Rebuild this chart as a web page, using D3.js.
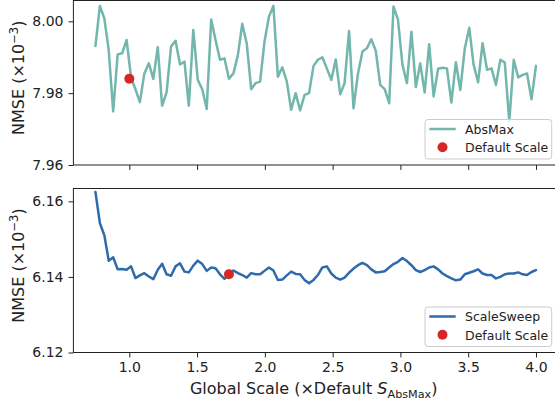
<!DOCTYPE html>
<html>
<head>
<meta charset="utf-8">
<script src="https://cdn.jsdelivr.net/npm/d3@7/dist/d3.min.js"></script>
<style>
  body { margin: 0; background: #fff; }
  svg { display: block; font-family: 'DejaVu Sans', sans-serif; }
</style>
</head>
<body>
<div id="graf"></div>
<script>
// Escala global (x Default S_AbsMax), compartida por los dos paneles
const escalas = [0.750, 0.783, 0.816, 0.848, 0.881, 0.914, 0.947, 0.980, 1.013, 1.045,
  1.078, 1.111, 1.144, 1.177, 1.210, 1.242, 1.275, 1.308, 1.341, 1.374,
  1.407, 1.439, 1.472, 1.505, 1.538, 1.571, 1.604, 1.636, 1.669, 1.702,
  1.735, 1.768, 1.801, 1.833, 1.866, 1.899, 1.932, 1.965, 1.997, 2.030,
  2.063, 2.096, 2.129, 2.162, 2.194, 2.227, 2.260, 2.293, 2.326, 2.359,
  2.391, 2.424, 2.457, 2.490, 2.523, 2.556, 2.588, 2.621, 2.654, 2.687,
  2.720, 2.753, 2.785, 2.818, 2.851, 2.884, 2.917, 2.949, 2.982, 3.015,
  3.048, 3.081, 3.114, 3.146, 3.179, 3.212, 3.245, 3.278, 3.311, 3.343,
  3.376, 3.409, 3.442, 3.475, 3.508, 3.540, 3.573, 3.606, 3.639, 3.672,
  3.705, 3.737, 3.770, 3.803, 3.836, 3.869, 3.902, 3.934, 3.967, 4.000]

// NMSE (x10^-3) panel superior
const absMax = [7.9931, 8.0043, 8.0008, 7.9920, 7.9749, 7.9908, 7.9911, 7.9948, 7.9844, 7.9811,
  7.9775, 7.9855, 7.9883, 7.9840, 7.9928, 7.9765, 7.9802, 7.9930, 7.9946, 7.9880,
  7.9888, 7.9765, 7.9976, 7.9837, 7.9811, 7.9756, 8.0005, 7.9948, 7.9893, 7.9897,
  7.9840, 7.9855, 7.9906, 7.9993, 7.9939, 7.9811, 7.9828, 7.9832, 7.9943, 8.0013,
  8.0043, 7.9846, 7.9872, 7.9832, 7.9754, 7.9800, 7.9752, 7.9795, 7.9800, 7.9876,
  7.9893, 7.9900, 7.9869, 7.9837, 7.9894, 7.9797, 7.9828, 7.9973, 7.9758, 7.9855,
  7.9916, 7.9925, 7.9950, 7.9918, 7.9823, 7.9811, 7.9772, 8.0041, 8.0005, 7.9879,
  7.9828, 7.9971, 7.9817, 7.9883, 7.9802, 7.9936, 7.9791, 7.9868, 7.9871, 7.9869,
  7.9774, 7.9886, 7.9809, 7.9925, 7.9982, 7.9879, 7.9830, 7.9939, 7.9865, 7.9869,
  7.9823, 7.9893, 7.9885, 7.9721, 7.9893, 7.9844, 7.9851, 7.9855, 7.9783, 7.9876]

// NMSE (x10^-3) panel inferior
const scaleSweep = [6.1625, 6.1542, 6.1510, 6.1443, 6.1452, 6.1420, 6.1421, 6.1419, 6.1428, 6.1397,
  6.1404, 6.1410, 6.1401, 6.1394, 6.1419, 6.1435, 6.1407, 6.1403, 6.1428, 6.1436,
  6.1414, 6.1412, 6.1430, 6.1443, 6.1434, 6.1416, 6.1425, 6.1423, 6.1407, 6.1395,
  6.1407, 6.1417, 6.1410, 6.1405, 6.1398, 6.1410, 6.1407, 6.1407, 6.1416, 6.1425,
  6.1417, 6.1392, 6.1393, 6.1404, 6.1414, 6.1408, 6.1407, 6.1392, 6.1383, 6.1392,
  6.1405, 6.1425, 6.1428, 6.1409, 6.1398, 6.1393, 6.1398, 6.1411, 6.1422, 6.1431,
  6.1437, 6.1431, 6.1420, 6.1412, 6.1413, 6.1415, 6.1425, 6.1434, 6.1440, 6.1450,
  6.1442, 6.1431, 6.1418, 6.1413, 6.1418, 6.1425, 6.1428, 6.1420, 6.1409, 6.1402,
  6.1396, 6.1391, 6.1393, 6.1407, 6.1411, 6.1415, 6.1420, 6.1409, 6.1405, 6.1405,
  6.1396, 6.1400, 6.1407, 6.1409, 6.1409, 6.1412, 6.1407, 6.1405, 6.1413, 6.1418]

// Punto de la escala por defecto [x, y]
const defaultAbsMax = [1.0, 7.984]
const defaultSweep = [1.735, 6.1407]

// Ticks
const xTicks = [1.0, 1.5, 2.0, 2.5, 3.0, 3.5, 4.0]
const yTicksTop = [7.96, 7.98, 8.00]
const yTicksBottom = [6.12, 6.14, 6.16]

const ancho_total = 555
const alto_total = 405

svg = d3.select('#graf').append('svg')
  .attr('width', ancho_total)
  .attr('height', alto_total)

// El eje derecho queda fuera del recorte (como en la figura original)
x = d3.scaleLinear().domain([0.5875, 4.1625]).range([73.4, 558])

lineaGen = d3.line()
  .x(d => x(d[0]))
  .y(d => d[2](d[1]))

function panel(cfg) {
  let y = d3.scaleLinear().domain(cfg.domain).range([cfg.bottom, cfg.top])
  let g = svg.append('g')

  // Ejes
  let xAxis = g.append('g')
    .attr('transform', `translate(0, ${cfg.bottom})`)
    .call(d3.axisBottom(x).tickValues(xTicks).tickSize(4.9).tickPadding(4.5)
      .tickFormat(cfg.labels ? d3.format('.1f') : ''))
  let yAxis = g.append('g')
    .attr('transform', `translate(${x.range()[0]}, 0)`)
    .call(d3.axisLeft(y).tickValues(cfg.yTicks).tickSize(4.9).tickPadding(5)
      .tickFormat(d3.format('.2f')))
  g.selectAll('.domain').remove()
  g.selectAll('.tick line').attr('stroke', '#222').attr('stroke-width', 1)
  g.selectAll('.tick text').attr('font-size', 14).attr('fill', '#222')
    .attr('font-family', "'DejaVu Sans', sans-serif")

  // Linea de datos
  let datos = escalas.map((e, i) => [e, cfg.values[i], y])
  g.append('path')
    .attr('d', lineaGen(datos))
    .attr('fill', 'none')
    .attr('stroke', cfg.color)
    .attr('stroke-width', 2.5)
    .attr('stroke-linejoin', 'round')
    .attr('stroke-linecap', 'round')

  g.append('circle')
    .attr('cx', x(cfg.dot[0]))
    .attr('cy', y(cfg.dot[1]))
    .attr('r', 5)
    .attr('fill', '#d62728')

  // Marco
  g.append('rect')
    .attr('x', x.range()[0])
    .attr('y', cfg.top)
    .attr('width', x.range()[1] - x.range()[0])
    .attr('height', cfg.bottom - cfg.top)
    .attr('fill', 'none')
    .attr('stroke', '#222')
    .attr('stroke-width', 1)

  // Etiqueta eje Y
  let yl = g.append('text')
    .attr('transform', `translate(23.5, ${(cfg.top + cfg.bottom) / 2 - 5}) rotate(-90)`)
    .attr('text-anchor', 'middle')
    .attr('font-size', 16)
    .attr('fill', '#222')
  yl.append('tspan').text('NMSE (×10')
  yl.append('tspan').attr('dy', -6).attr('font-size', 11.5).text('−3')
  yl.append('tspan').attr('dy', 6).text(')')

  // Leyenda
  let lx = 425, ly = cfg.bottom - 6 - 39.5
  let leg = g.append('g')
  leg.append('rect')
    .attr('x', lx).attr('y', ly)
    .attr('width', 126.7).attr('height', 39.5)
    .attr('rx', 3)
    .attr('fill', 'white').attr('fill-opacity', 0.8)
    .attr('stroke', '#cccccc')
  leg.append('line')
    .attr('x1', lx + 4.3).attr('x2', lx + 30.7)
    .attr('y1', ly + 9.5).attr('y2', ly + 9.5)
    .attr('stroke', cfg.color).attr('stroke-width', 2.5)
  leg.append('text')
    .attr('x', lx + 40).attr('y', ly + 14.3)
    .attr('font-size', 12.5).attr('fill', '#222')
    .text(cfg.name)
  leg.append('circle')
    .attr('cx', lx + 17.5).attr('cy', ly + 27.8)
    .attr('r', 5).attr('fill', '#d62728')
  leg.append('text')
    .attr('x', lx + 40).attr('y', ly + 32.6)
    .attr('font-size', 12.5).attr('fill', '#222')
    .text('Default Scale')
}

panel({
  top: 0.5, bottom: 165, domain: [7.96, 8.0058], yTicks: yTicksTop,
  values: absMax, dot: defaultAbsMax, color: '#72b6ad', name: 'AbsMax', labels: false
})
panel({
  top: 188.5, bottom: 352.5, domain: [6.12, 6.1634], yTicks: yTicksBottom,
  values: scaleSweep, dot: defaultSweep, color: '#2f6aac', name: 'ScaleSweep', labels: true
})

// Etiqueta eje X
xl = svg.append('text')
  .attr('x', (x.range()[0] + x.range()[1]) / 2 - 2)
  .attr('y', 394)
  .attr('text-anchor', 'middle')
  .attr('font-size', 16)
  .attr('fill', '#222')
xl.append('tspan').text('Global Scale (×Default ')
xl.append('tspan').attr('font-style', 'italic').text('S')
xl.append('tspan').attr('dy', 3.5).attr('font-size', 11.2).text('AbsMax')
xl.append('tspan').attr('dy', -3.5).text(')')
</script>
</body>
</html>
